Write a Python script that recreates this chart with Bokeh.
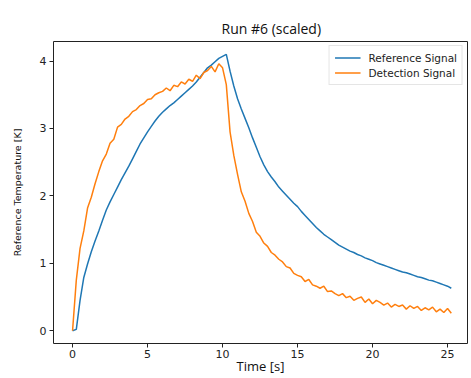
from bokeh.plotting import figure
from bokeh.models import Range1d, Legend, LegendItem, FixedTicker
from bokeh.embed import file_html
from bokeh.resources import INLINE

time_s = [0.0, 0.25, 0.5, 0.75, 1.0, 1.25, 1.5, 1.75, 2.0, 2.25, 2.5, 2.75,
          3.0, 3.25, 3.5, 3.75, 4.0, 4.25, 4.5, 4.75, 5.0, 5.25, 5.5, 5.75,
          6.0, 6.25, 6.5, 6.75, 7.0, 7.25, 7.5, 7.75, 8.0, 8.25, 8.5, 8.75,
          9.0, 9.25, 9.5, 9.75, 10.0, 10.25, 10.5, 10.75, 11.0, 11.25, 11.5, 11.75,
          12.0, 12.25, 12.5, 12.75, 13.0, 13.25, 13.5, 13.75, 14.0, 14.25, 14.5, 14.75,
          15.0, 15.25, 15.5, 15.75, 16.0, 16.25, 16.5, 16.75, 17.0, 17.25, 17.5, 17.75,
          18.0, 18.25, 18.5, 18.75, 19.0, 19.25, 19.5, 19.75, 20.0, 20.25, 20.5, 20.75,
          21.0, 21.25, 21.5, 21.75, 22.0, 22.25, 22.5, 22.75, 23.0, 23.25, 23.5, 23.75,
          24.0, 24.25, 24.5, 24.75, 25.0, 25.25]

reference_signal = [0.0, 0.02, 0.45, 0.79, 0.99, 1.17, 1.33, 1.48, 1.64, 1.79, 1.91, 2.02,
                    2.13, 2.24, 2.34, 2.44, 2.55, 2.66, 2.77, 2.86, 2.95, 3.03, 3.11, 3.18,
                    3.24, 3.29, 3.34, 3.38, 3.43, 3.48, 3.53, 3.58, 3.63, 3.69, 3.76, 3.83,
                    3.90, 3.94, 3.99, 4.04, 4.07, 4.10, 3.85, 3.63, 3.44, 3.29, 3.15, 3.01,
                    2.86, 2.72, 2.58, 2.46, 2.36, 2.28, 2.21, 2.13, 2.07, 2.01, 1.95, 1.89,
                    1.84, 1.77, 1.71, 1.65, 1.59, 1.53, 1.48, 1.43, 1.39, 1.35, 1.31, 1.27,
                    1.24, 1.21, 1.18, 1.16, 1.13, 1.11, 1.08, 1.06, 1.04, 1.01, 0.99, 0.97,
                    0.95, 0.93, 0.91, 0.89, 0.87, 0.86, 0.84, 0.82, 0.80, 0.79, 0.77, 0.75,
                    0.74, 0.72, 0.70, 0.68, 0.66, 0.63]

detection_signal = [0.0, 0.75, 1.22, 1.48, 1.82, 1.98, 2.18, 2.36, 2.52, 2.62, 2.78, 2.84,
                    3.02, 3.06, 3.14, 3.18, 3.25, 3.28, 3.34, 3.37, 3.43, 3.44, 3.50, 3.53,
                    3.55, 3.60, 3.56, 3.64, 3.62, 3.69, 3.66, 3.73, 3.70, 3.79, 3.74, 3.83,
                    3.86, 3.92, 3.84, 3.96, 3.90, 3.65, 2.95, 2.60, 2.32, 2.06, 1.92, 1.74,
                    1.62, 1.46, 1.40, 1.30, 1.25, 1.16, 1.12, 1.06, 1.02, 0.95, 0.93, 0.85,
                    0.82, 0.80, 0.73, 0.76, 0.68, 0.66, 0.63, 0.66, 0.58, 0.59, 0.55, 0.52,
                    0.55, 0.49, 0.51, 0.45, 0.48, 0.50, 0.42, 0.47, 0.40, 0.45, 0.42, 0.38,
                    0.41, 0.35, 0.39, 0.36, 0.38, 0.32, 0.37, 0.33, 0.36, 0.30, 0.34, 0.31,
                    0.35, 0.28, 0.32, 0.27, 0.33, 0.26]

x_ticks = [0, 5, 10, 15, 20, 25]
y_ticks = [0, 1, 2, 3, 4]

title_text = "Run #6 (scaled)"
x_label = "Time [s]"
y_label = "Reference Temperature [K]"
series_names = ["Reference Signal", "Detection Signal"]

BLUE = "#1f77b4"
ORANGE = "#ff7f0e"

p = figure(width=471, height=378, output_backend="svg", toolbar_location=None,
           x_range=Range1d(-1.27, 26.33), y_range=Range1d(-0.19, 4.29),
           min_border_left=53, min_border_right=4, min_border_top=41,
           min_border_bottom=35, title=title_text)
p.background_fill_color = "white"
p.border_fill_color = "white"
p.outline_line_color = "#222222"
p.outline_line_width = 1
p.xgrid.visible = False
p.ygrid.visible = False

p.title.align = "left"
p.title.offset = 168
p.title.text_font = "Open Sans"
p.title.text_font_size = "14px"
p.title.text_font_style = "normal"
p.title.text_color = "#111111"
p.title.standoff = 7

for ax in (p.xaxis[0], p.yaxis[0]):
    ax.axis_line_color = None
    ax.major_tick_in = 0
    ax.major_tick_out = 4
    ax.minor_tick_line_color = None
    ax.major_tick_line_color = "#222222"
    ax.major_label_text_font = "DejaVu Sans"
    ax.major_label_text_font_size = "11px"
    ax.major_label_text_color = "#222222"
    ax.major_label_standoff = 3
    ax.axis_label_text_font_style = "normal"
    ax.axis_label_text_color = "#111111"
p.xaxis.ticker = FixedTicker(ticks=x_ticks)
p.yaxis.ticker = FixedTicker(ticks=y_ticks)

p.xaxis.axis_label = x_label
p.xaxis.axis_label_text_font = "Open Sans"
p.xaxis.axis_label_text_font_size = "13px"
p.xaxis.major_label_standoff = 2
p.xaxis.axis_label_standoff = -4

p.yaxis.axis_label = y_label
p.yaxis.axis_label_text_font = "DejaVu Sans"
p.yaxis.axis_label_text_font_size = "9.5px"
p.yaxis.axis_label_standoff = 14

r1 = p.line(time_s, reference_signal, line_color=BLUE, line_width=1.5)
r2 = p.line(time_s, detection_signal, line_color=ORANGE, line_width=1.5)

legend = Legend(items=[LegendItem(label=series_names[0], renderers=[r1]),
                       LegendItem(label=series_names[1], renderers=[r2])],
                location="top_right", margin=4, padding=5, spacing=2,
                glyph_width=26, glyph_height=13, label_height=13,
                label_standoff=8,
                label_text_font="DejaVu Sans", label_text_font_size="10.5px",
                label_text_color="#222222",
                border_line_color="#cccccc", border_line_width=1,
                background_fill_alpha=0.8)
p.add_layout(legend)

open("out.html", "w").write(file_html(p, INLINE))
